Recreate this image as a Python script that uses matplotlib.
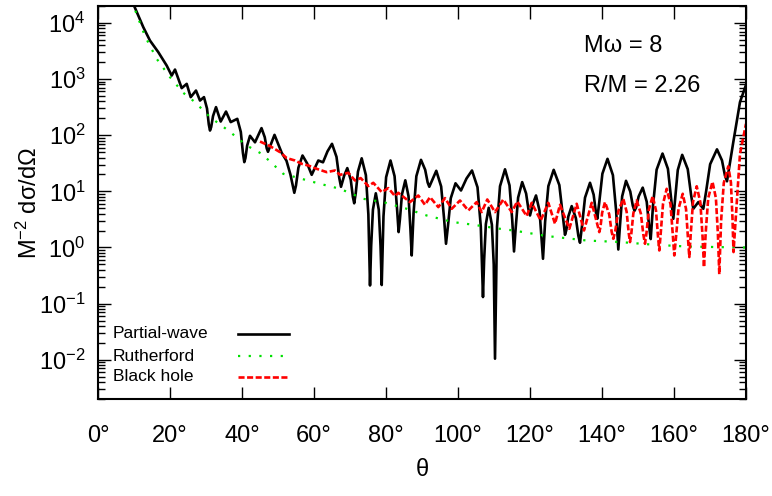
import numpy as np
import matplotlib
matplotlib.use("Agg")
import matplotlib.pyplot as plt
from matplotlib.ticker import NullFormatter

plt.rcParams['font.family'] = ['Liberation Sans', 'DejaVu Sans']
plt.rcParams['mathtext.fontset'] = 'custom'
plt.rcParams['mathtext.rm'] = 'Liberation Sans'
plt.rcParams['mathtext.it'] = 'Liberation Sans:italic'

# values: theta in degrees, cross section as log10
# partial-wave
pw_theta = [8.9, 10.0, 12.58, 14.44, 16.75, 19.08, 20.47, 21.39, 23.25, 24.64,
            25.75, 27.22, 28.33, 29.44, 30.28, 30.78, 31.11, 31.44, 31.95, 32.78,
            34.08, 35.56, 36.86, 38.69, 39.67, 40.25, 40.64, 40.96, 41.43, 42.22,
            43.61, 45.42, 46.32, 46.86, 47.22, 49.03, 51.03, 52.36, 53.45, 54.53,
            54.99, 55.67, 56.81, 58.08, 59.36, 61.19, 62.5, 63.75, 65.0, 66.25,
            67.0, 67.5, 68.38, 69.25, 70.21, 70.79, 71.17, 71.59, 72.21, 73.25,
            74.41, 75.10, 75.56, 75.88, 76.37, 77.17, 77.99, 78.48, 78.81, 79.30,
            80.03, 81.25, 82.38, 83.05, 83.5, 83.87, 84.43, 85.36, 86.25, 86.78,
            87.14, 87.66, 88.43, 89.72, 90.88, 91.57, 92.03, 93.97, 95.32, 96.13,
            96.67, 97.20, 97.99, 99.31, 100.83, 102.36, 103.89, 105.42, 106.33, 106.94,
            107.26, 107.74, 108.53, 109.41, 109.93, 110.28, 110.84, 111.67, 113.06, 114.31,
            115.06, 115.56, 116.01, 116.70, 117.83, 118.92, 119.57, 120.0, 120.84, 121.67,
            122.64, 123.22, 123.61, 124.20, 125.10, 126.58, 128.15, 129.09, 129.72, 130.09,
            130.65, 131.58, 132.74, 133.43, 133.89, 134.45, 135.28, 136.67, 137.68, 138.29,
            138.69, 139.26, 140.11, 141.53, 143.03, 143.93, 144.53, 144.96, 145.60, 146.67,
            147.85, 148.56, 149.03, 149.49, 150.17, 151.31, 152.42, 153.09, 153.53, 154.19,
            155.17, 156.81, 158.31, 159.21, 159.81, 160.30, 161.05, 162.28, 163.82, 164.74,
            165.36, 166.75, 168.14, 168.90, 170.04, 171.94, 173.33, 174.16, 174.72, 176.47,
            178.33, 180.0]
pw_log = [4.517, 4.308, 3.924, 3.685, 3.479, 3.240, 3.062, 3.169, 2.838, 2.914,
          2.678, 2.795, 2.617, 2.678, 2.475, 2.190, 2.083, 2.145, 2.340, 2.500,
          2.243, 2.421, 2.233, 2.291, 2.058, 1.687, 1.520, 1.594, 1.815, 1.989,
          1.873, 2.126, 1.964, 1.767, 1.704, 2.006, 1.686, 1.544, 1.300, 0.974,
          1.103, 1.422, 1.638, 1.499, 1.294, 1.549, 1.517, 1.712, 1.846, 1.614,
          1.246, 1.081, 1.279, 1.414, 1.205, 0.904, 0.787, 0.966, 1.351, 1.588,
          1.289, 0.590, -0.677, 0.030, 0.674, 0.965, 0.674, 0.030, -0.669, 0.553,
          1.251, 1.549, 1.270, 0.706, 0.274, 0.505, 0.944, 1.196, 0.915, 0.333,
          -0.142, 0.616, 1.269, 1.561, 1.384, 1.158, 1.081, 1.366, 1.086, 0.515,
          0.066, 0.377, 0.877, 1.143, 1.015, 1.228, 1.371, 1.072, 0.373, -0.883,
          -0.219, 0.417, 0.707, 0.407, -0.304, -1.981, 0.374, 1.091, 1.392, 1.106,
          0.494, -0.071, 0.334, 0.888, 1.164, 0.961, 0.677, 0.570, 0.784, 0.926,
          0.656, 0.138, -0.201, 0.459, 1.093, 1.383, 1.111, 0.583, 0.226, 0.310,
          0.553, 0.737, 0.523, 0.209, 0.084, 0.390, 0.887, 1.152, 0.940, 0.632,
          0.511, 0.817, 1.314, 1.579, 1.288, 0.649, -0.036, 0.362, 0.911, 1.187,
          0.997, 0.743, 0.653, 0.714, 0.907, 1.066, 0.815, 0.378, 0.150, 0.762,
          1.385, 1.673, 1.401, 0.871, 0.511, 0.857, 1.379, 1.650, 1.394, 0.939,
          0.689, 0.808, 0.689, 0.990, 1.483, 1.748, 1.551, 1.279, 1.179, 1.876,
          2.589, 2.897]

# Rutherford (plain values)
ru_theta = [9.5, 10.47, 13.06, 16.31, 20.0, 23.69, 26.94, 31.11, 36.19, 41.31,
            45.47, 51.47, 61.67, 67.22, 73.69, 79.25, 85.75, 91.31, 98.69, 104.25,
            111.67, 115.36, 124.64, 135.75, 145.0, 154.25, 163.53, 178.33, 180.0]
ru_value = [2.5e4, 1.59e4, 5800, 2290, 1080, 568, 388, 210, 121, 65.5,
            46.6, 20.5, 13.6, 11.1, 7.36, 6.43, 4.89, 3.71, 2.83, 2.54,
            2.15, 2.01, 1.60, 1.33, 1.25, 1.12, 1.04, 1.0, 1.0]

# black hole
bh_theta = [45.0, 47.78, 50.56, 52.42, 54.72, 56.58, 58.42, 60.75, 63.53, 65.83,
            67.22, 69.53, 71.39, 72.97, 75.08, 76.47, 78.81, 80.64, 82.5, 83.42,
            86.67, 88.97, 90.83, 92.22, 94.53, 96.39, 98.25, 100.56, 102.86, 105.19,
            106.58, 108.14, 110.28, 112.58, 114.92, 116.47, 119.08, 120.47, 122.97, 125.08,
            126.94, 128.33, 130.92, 132.97, 135.0, 137.14, 139.25, 139.57, 140.04, 140.83,
            141.99, 142.68, 143.14, 143.70, 144.53, 145.92, 146.85, 147.41, 147.78, 148.15,
            148.71, 149.64, 150.79, 151.48, 151.94, 152.37, 153.01, 154.08, 155.0, 155.55,
            155.92, 156.33, 156.95, 157.97, 159.03, 159.66, 160.08, 160.55, 161.25, 162.42,
            163.34, 163.88, 164.25, 164.66, 165.28, 166.31, 167.32, 167.93, 168.33, 168.80,
            169.51, 170.69, 171.64, 172.20, 172.58, 173.08, 173.83, 175.08, 175.81, 176.24,
            176.53, 178.33, 180.0]
bh_log = [1.887, 1.805, 1.698, 1.592, 1.549, 1.490, 1.460, 1.401, 1.342, 1.371,
          1.294, 1.330, 1.193, 1.236, 1.093, 1.152, 0.986, 1.057, 0.915, 0.974,
          0.808, 0.926, 0.760, 0.897, 0.719, 0.879, 0.689, 0.837, 0.659, 0.808,
          0.630, 0.855, 0.630, 0.855, 0.630, 0.819, 0.559, 0.796, 0.481, 0.796,
          0.422, 0.760, 0.333, 0.778, 0.303, 0.796, 0.274, 0.364, 0.618, 0.808,
          0.594, 0.280, 0.155, 0.300, 0.643, 0.867, 0.634, 0.263, 0.096, 0.252,
          0.608, 0.837, 0.604, 0.233, 0.066, 0.265, 0.672, 0.915, 0.658, 0.200,
          -0.053, 0.270, 0.777, 1.045, 0.771, 0.233, -0.142, 0.180, 0.688, 0.956,
          0.686, 0.168, -0.171, 0.252, 0.812, 1.090, 0.804, 0.197, -0.353, 0.259,
          0.882, 1.170, 0.879, 0.234, -0.477, 0.473, 1.150, 1.446, 1.158, 0.534,
          -0.082, 1.668, 2.202]

labels = ["Partial-wave", "Rutherford", "Black hole"]
xticks = [0, 20, 40, 60, 80, 100, 120, 140, 160, 180]
ydecades = [-2, -1, 0, 1, 2, 3, 4]

fig = plt.figure(figsize=(7.72, 4.96), dpi=100)
ax = fig.add_axes([98/772, 1-399/496, 648/772, 393/496])

pw_style = dict(color='black', lw=1.9)
ru_style = dict(color='#00e000', lw=1.6, linestyle=(0, (1, 3.8)))
bh_style = dict(color='#ff0000', lw=1.9, linestyle=(0, (2.3, 0.95)))

ax.plot(pw_theta, 10**np.array(pw_log), solid_joinstyle='round', **pw_style)
ax.plot(ru_theta, ru_value, **ru_style)
ax.plot(bh_theta, 10**np.array(bh_log), **bh_style)

ax.set_yscale('log')
ax.set_xlim(0, 180)
ax.set_ylim(2e-3, 2e4)

ax.set_xticks(xticks)
ax.set_xticklabels([f"{t}°" for t in xticks])
ax.set_yticks([10.0**d for d in ydecades])
ax.set_yticklabels([r'$\mathregular{10^{%d}}$' % d for d in ydecades])
minors = [k * 10.0**d for d in range(-3, 5) for k in range(2, 10)]
ax.set_yticks([m for m in minors if 2e-3 <= m <= 2e4], minor=True)
ax.yaxis.set_minor_formatter(NullFormatter())

ax.tick_params(which='both', direction='in', left=True, right=True, top=True,
               bottom=True, width=1.0, color='black')
ax.tick_params(which='major', length=9, labelsize=17)
ax.tick_params(which='minor', length=5)
ax.tick_params(axis='x', which='major', pad=19)
ax.tick_params(axis='y', which='major', pad=9)
for s in ax.spines.values():
    s.set_linewidth(1.5)

ax.set_xlabel('θ', fontsize=17, labelpad=8)
ax.set_ylabel(r'M$^{\mathregular{-2}}$ dσ/dΩ', fontsize=17, labelpad=-2)

ax.text(0.7505, 0.8975, 'Mω = 8', transform=ax.transAxes, fontsize=17, va='center', ha='left')
ax.text(0.7505, 0.7964, 'R/M = 2.26', transform=ax.transAxes, fontsize=17, va='center', ha='left')

# gnuplot style key: text first, sample line on the right
for st, lab, yk in zip([pw_style, ru_style, bh_style], labels, [0.1654, 0.1094, 0.056]):
    ax.text(0.0231, yk, lab, transform=ax.transAxes, fontsize=12.5, va='center', ha='left')
    ax.plot([0.216, 0.2948], [yk, yk], transform=ax.transAxes, **st)

fig.savefig('out.png', dpi=100)
